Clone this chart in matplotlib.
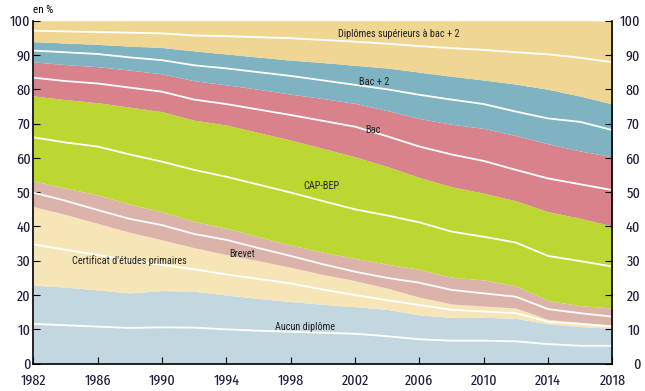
import matplotlib.pyplot as plt
import matplotlib.transforms as mtrans
import numpy as np

plt.rcParams['font.family'] = ['Roboto Condensed', 'DejaVu Sans']

years = [1982, 1984, 1986, 1988, 1990, 1992, 1994, 1996, 1998, 2000,
         2002, 2004, 2006, 2008, 2010, 2012, 2014, 2016, 2018]

# cumulative upper bound of each layer (en %)
top_aucun = [22.9, 22.3, 21.5, 20.6, 21.3, 21.1, 20.0, 19.0, 18.1, 17.3,
             16.6, 15.8, 14.2, 13.5, 13.5, 13.2, 11.6, 10.8, 10.3]
top_certif = [45.8, 43.5, 40.9, 38.3, 36.1, 33.8, 31.8, 30.0, 28.1, 26.0,
              24.2, 22.0, 19.4, 17.4, 16.8, 16.2, 12.9, 12.0, 11.3]
top_brevet = [53.3, 51.2, 49.2, 46.5, 44.3, 41.5, 39.5, 37.0, 34.6, 32.5,
              30.7, 29.0, 27.5, 25.2, 24.4, 22.7, 18.4, 16.9, 16.2]
top_cap = [78.1, 77.0, 76.1, 74.8, 73.5, 71.0, 69.6, 67.4, 65.2, 62.8,
           60.3, 57.5, 54.3, 51.6, 49.7, 47.5, 44.3, 42.4, 40.1]
top_bac = [88.0, 87.2, 86.6, 85.6, 84.5, 82.5, 81.3, 80.0, 78.6, 77.3,
           75.9, 73.8, 71.5, 69.8, 68.6, 66.5, 64.1, 62.0, 60.3]
top_bac2 = [93.9, 93.5, 93.1, 92.6, 92.2, 91.2, 90.3, 89.4, 88.5, 87.8,
            87.0, 86.2, 85.0, 83.8, 82.7, 81.5, 80.0, 78.0, 75.7]
top_sup = [100] * len(years)

# white lines inside each layer
w_aucun = [11.6, 11.2, 10.8, 10.4, 10.6, 10.5, 10.0, 9.6, 9.3, 9.0,
           8.7, 8.0, 7.1, 6.7, 6.7, 6.5, 5.7, 5.2, 5.2]
w_certif = [34.8, 33.2, 31.7, 30.0, 28.8, 27.5, 26.0, 24.7, 23.4, 21.6,
            20.0, 18.5, 17.1, 15.7, 15.2, 14.7, 12.2, 11.6, 10.8]
w_brevet = [49.9, 47.5, 44.8, 42.2, 40.4, 37.8, 36.1, 33.7, 31.4, 29.0,
            26.8, 25.0, 23.6, 21.5, 20.5, 19.5, 15.9, 14.7, 13.7]
w_cap = [66.0, 64.5, 63.3, 61.0, 58.9, 56.5, 54.5, 52.2, 49.9, 47.4,
         45.0, 43.2, 41.2, 38.5, 37.0, 35.3, 31.4, 29.9, 28.3]
w_bac = [83.4, 82.4, 81.7, 80.5, 79.3, 77.0, 75.7, 74.1, 72.5, 70.8,
         69.1, 66.3, 63.3, 61.0, 59.1, 56.5, 54.0, 52.3, 50.6]
w_bac2 = [91.3, 90.8, 90.3, 89.3, 88.5, 87.0, 86.1, 85.0, 83.9, 82.6,
          81.3, 80.0, 78.4, 77.0, 75.7, 73.5, 71.5, 70.5, 68.1]
w_sup = [97.1, 96.9, 96.7, 96.5, 96.3, 95.7, 95.5, 95.2, 94.9, 94.4,
         93.9, 93.3, 92.6, 92.0, 91.5, 90.8, 90.2, 89.2, 87.9]

tops = [top_aucun, top_certif, top_brevet, top_cap, top_bac, top_bac2, top_sup]
whites = [w_aucun, w_certif, w_brevet, w_cap, w_bac, w_bac2, w_sup]
colors = ['#c2d7df', '#f6e5b7', '#dcb3aa', '#bdd732', '#d8828b', '#80b3c1', '#efd693']

fig = plt.figure(figsize=(6.45, 3.91), dpi=100)
ax = fig.add_axes([0.0516, 0.070, 0.898, 0.877])

bottom = np.zeros(len(years))
for top, col in zip(tops, colors):
    ax.fill_between(years, bottom, top, color=col, lw=0)
    bottom = np.array(top)
for w in whites:
    ax.plot(years, w, color='white', lw=1.3)

txt = dict(fontsize=7.4, color='#222222', ha='center', va='center')
ax.text(2004.7, 96.2, 'Diplômes supérieurs à bac + 2', **txt)
ax.text(2003.2, 82.2, 'Bac + 2', **txt)
ax.text(2003.1, 68.0, 'Bac', **txt)
ax.text(1999.9, 51.8, 'CAP-BEP', **txt)
ax.text(1995.0, 32.0, 'Brevet', **txt)
ax.text(1988.0, 30.0, "Certificat d'études primaires", **txt)
ax.text(1998.9, 10.6, 'Aucun diplôme', **txt)
fig.text(0.051, 0.974, 'en %', fontsize=8, ha='left', va='center')

ax.set_xlim(1982, 2018)
ax.set_ylim(0, 100)
ax.set_xticks(range(1982, 2019, 4))
ax.set_yticks(range(0, 101, 10))
ax.tick_params(axis='both', direction='in', length=5,
               right=True, labelright=True, top=False)
ax.tick_params(axis='x', pad=7)
ax.yaxis.set_tick_params(pad=2)
for lab in ax.get_xticklabels() + ax.get_yticklabels():
    lab.set_fontfamily(['Fira Sans Extra Condensed', 'DejaVu Sans'])
    lab.set_fontsize(11)
    lab.set_color('#1c1c3a')
# right-hand labels end flush near the figure edge
for t in ax.yaxis.get_major_ticks():
    t.label2.set_fontfamily(['Fira Sans Extra Condensed', 'DejaVu Sans'])
    t.label2.set_fontsize(11)
    t.label2.set_color('#1c1c3a')
    t.label2.set_horizontalalignment('right')
    t.set_pad(2)
ax.spines['top'].set_visible(False)
for s in ['left', 'right', 'bottom']:
    ax.spines[s].set_linewidth(1.2)

fig.canvas.draw()
off = 25 / fig.dpi  # inches from right spine to label end
for t in ax.yaxis.get_major_ticks():
    t.label2.set_transform(t.label2.get_transform() +
                           mtrans.ScaledTranslation(off, 0, fig.dpi_scale_trans))

plt.savefig('out.png', dpi=100)
